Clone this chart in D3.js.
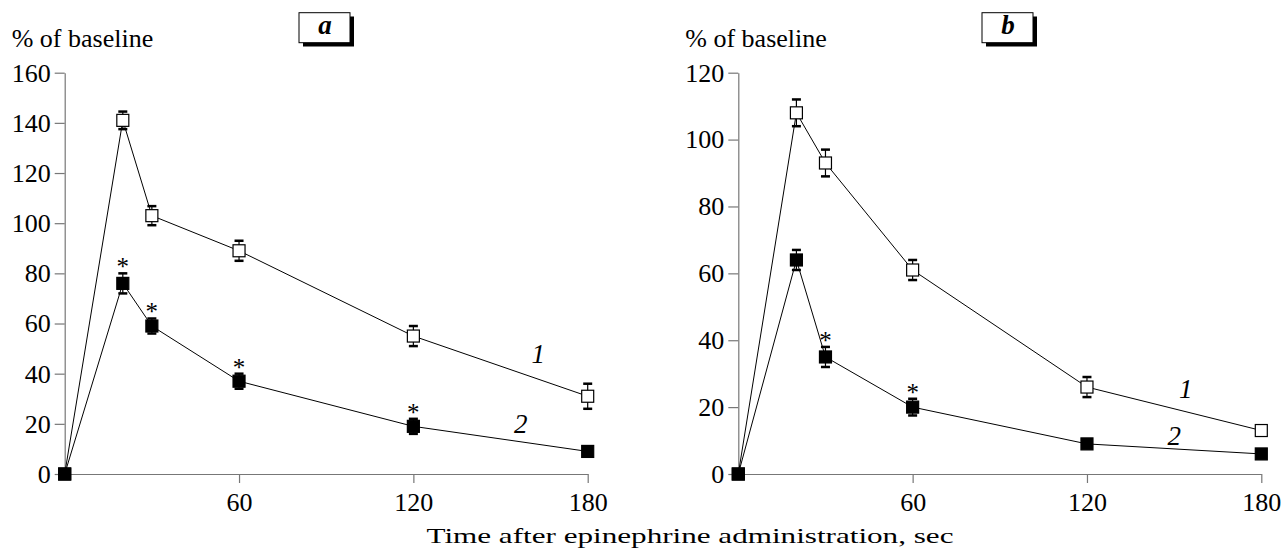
<!DOCTYPE html>
<html>
<head>
<meta charset="utf-8">
<script src="https://cdn.jsdelivr.net/npm/d3@7"></script>
<style>
  body { margin: 0; background: #fff; }
  svg text { font-family: "Liberation Serif", "Times New Roman", Times, serif; }
</style>
</head>
<body>
<div class="chart"></div>
<script>
// time points, sec
const times = [0, 20, 30, 60, 120, 180];

// panel a
const aControl = [0, 141, 103, 89, 55, 31];
const aControlErr = [0, 3.5, 3.8, 4, 4, 5];
const aTreated = [0, 76, 59, 37, 19, 9];
const aTreatedErr = [0, 4, 3, 3, 3, 0];
const aStars = [false, true, true, true, true, false];

// panel b
const bControl = [0, 108, 93, 61, 26, 13];
const bControlErr = [0, 4, 4, 3, 3, 0];
const bTreated = [0, 64, 35, 20, 9, 6];
const bTreatedErr = [0, 3, 3, 2.5, 0, 0];
const bStars = [false, false, true, true, false, false];

const xTicks = [60, 120, 180];
const aYTicks = [0, 20, 40, 60, 80, 100, 120, 140, 160];
const bYTicks = [0, 20, 40, 60, 80, 100, 120];

// curve number labels: time, value
const aCurveLabels = [{text: "1", t: 163, v: 48}, {text: "2", t: 157, v: 20}];
const bCurveLabels = [{text: "1", t: 154, v: 25.5}, {text: "2", t: 150, v: 11.5}];

const W = 1284, H = 550;
const FONT = "Liberation Serif";
const svg = d3.select(".chart").append("svg")
    .attr("width", W)
    .attr("height", H)
    .attr("font-family", FONT);

const panels = [
    {letter: "a", left: 64.7, yMax: 160, yTicks: aYTicks, control: aControl, controlErr: aControlErr,
     treated: aTreated, treatedErr: aTreatedErr, stars: aStars, labels: aCurveLabels, box: 299},
    {letter: "b", left: 738.3, yMax: 120, yTicks: bYTicks, control: bControl, controlErr: bControlErr,
     treated: bTreated, treatedErr: bTreatedErr, stars: bStars, labels: bCurveLabels, box: 982}
];

panels.forEach(p => drawPanel(p));

function drawPanel(p) {
    const x = d3.scaleLinear().domain([0, 180]).range([p.left, p.left + 523]);
    const y = d3.scaleLinear().domain([0, p.yMax]).range([474, 72.7]);

    const g = svg.append("g");

    // axes
    const yAxis = g.append("g")
        .attr("transform", `translate(${p.left},0)`)
        .call(d3.axisLeft(y).tickValues(p.yTicks).tickSize(10).tickPadding(4).tickSizeOuter(0));
    const xAxis = g.append("g")
        .attr("transform", "translate(0,474)")
        .call(d3.axisBottom(x).tickValues(xTicks).tickSize(9).tickPadding(10).tickSizeOuter(0));

    [yAxis, xAxis].forEach(a => {
        a.attr("font-family", FONT).attr("font-size", 26);
        a.select(".domain").attr("stroke", "#777").attr("stroke-width", 1.2);
        a.selectAll(".tick line").attr("stroke", "#777").attr("stroke-width", 1.2);
        a.selectAll(".tick text").attr("fill", "#000");
    });
    xAxis.selectAll(".tick text").attr("dy", "0.68em");

    // y label
    g.append("text")
        .attr("x", p.left - 53)
        .attr("y", 46.5)
        .attr("font-size", 26)
        .text("% of baseline");

    // panel letter box with shadow
    g.append("rect")
        .attr("x", p.box + 4).attr("y", 16.5)
        .attr("width", 51).attr("height", 30)
        .attr("fill", "#000");
    g.append("rect")
        .attr("x", p.box).attr("y", 12.7)
        .attr("width", 51).attr("height", 30)
        .attr("fill", "#fff").attr("stroke", "#000").attr("stroke-width", 1);
    g.append("text")
        .attr("x", p.box + 26).attr("y", 34)
        .attr("text-anchor", "middle")
        .attr("font-size", 27)
        .attr("font-style", "italic")
        .attr("font-weight", "bold")
        .text(p.letter);

    const line = d3.line().x((d, i) => x(times[i])).y(d => y(d));

    const series = [
        {values: p.control, errs: p.controlErr, fill: "#fff"},
        {values: p.treated, errs: p.treatedErr, fill: "#000"}
    ];

    series.forEach(s => {
        g.append("path")
            .datum(s.values)
            .attr("d", line)
            .attr("fill", "none")
            .attr("stroke", "#000")
            .attr("stroke-width", 1);
    });

    series.forEach(s => {
        const pts = s.values.map((v, i) => ({t: times[i], v: v, e: s.errs[i]}));
        const eb = g.append("g").selectAll("g")
            .data(pts.filter(d => d.e > 0))
            .join("g");
        eb.append("line")
            .attr("x1", d => x(d.t)).attr("x2", d => x(d.t))
            .attr("y1", d => y(d.v - d.e)).attr("y2", d => y(d.v + d.e))
            .attr("stroke", "#000").attr("stroke-width", 1.2);
        eb.selectAll("line.cap")
            .data(d => [{t: d.t, v: d.v - d.e}, {t: d.t, v: d.v + d.e}])
            .join("line")
            .attr("class", "cap")
            .attr("x1", d => x(d.t) - 4.5).attr("x2", d => x(d.t) + 4.5)
            .attr("y1", d => y(d.v)).attr("y2", d => y(d.v))
            .attr("stroke", "#000").attr("stroke-width", 2.5);

        g.append("g").selectAll("rect")
            .data(pts)
            .join("rect")
            .attr("x", d => x(d.t) - 6)
            .attr("y", d => y(d.v) - 6)
            .attr("width", 12).attr("height", 12)
            .attr("fill", s.fill)
            .attr("stroke", "#000")
            .attr("stroke-width", 1.2);
    });

    // significance asterisks over treated series
    g.append("g").selectAll("text")
        .data(p.treated.map((v, i) => ({t: times[i], v: v, e: p.treatedErr[i], star: p.stars[i]}))
            .filter(d => d.star))
        .join("text")
        .attr("x", d => x(d.t))
        .attr("y", d => Math.min(y(d.v + d.e), y(d.v) - 6) + 2)
        .attr("text-anchor", "middle")
        .attr("font-size", 25)
        .text("*");

    // curve numbers
    g.append("g").selectAll("text")
        .data(p.labels)
        .join("text")
        .attr("x", d => x(d.t))
        .attr("y", d => y(d.v))
        .attr("dy", "0.35em")
        .attr("text-anchor", "middle")
        .attr("font-size", 27)
        .attr("font-style", "italic")
        .text(d => d.text);
}

// shared x title
svg.append("text")
    .attr("x", 690)
    .attr("y", 543)
    .attr("text-anchor", "middle")
    .attr("font-size", 22)
    .attr("textLength", 527)
    .attr("lengthAdjust", "spacingAndGlyphs")
    .text("Time after epinephrine administration, sec");
</script>
</body>
</html>
